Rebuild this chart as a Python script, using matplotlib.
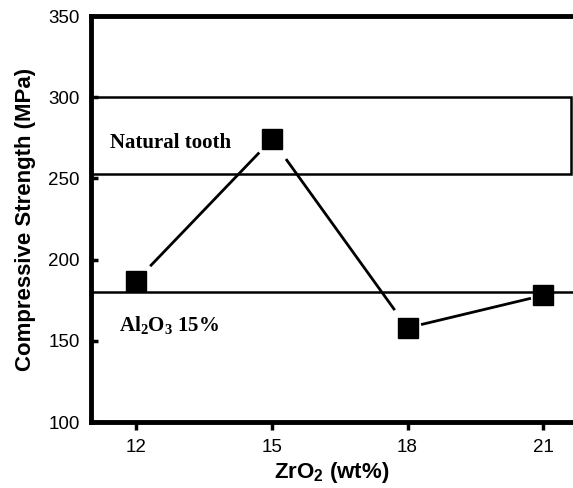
import matplotlib.pyplot as plt
import numpy as np
from matplotlib.patches import Rectangle

# ZrO2 content vs compressive strength
zro2 = [12, 15, 18, 21]
strength = [187, 274, 158, 178]

tooth_low, tooth_high = 253, 300   # natural tooth range (MPa)
al2o3_ref = 180                    # Al2O3 15% reference (MPa)

# chemical formulas: \mathbf -> bold sans, \mathrm -> bold serif
plt.rcParams['mathtext.fontset'] = 'custom'
plt.rcParams['mathtext.bf'] = 'Liberation Sans:bold'
plt.rcParams['mathtext.rm'] = 'Liberation Serif:bold'

fig = plt.figure(figsize=(5.73, 4.88), dpi=100)
ax = fig.add_axes([0.1588, 0.1352, 0.8412, 0.8320])

ax.set_xlim(11.0, 21.66)
ax.set_ylim(100, 350)

# natural tooth band
ax.add_patch(Rectangle((10.9, tooth_low), 21.62 - 10.9, tooth_high - tooth_low,
                       facecolor='white', edgecolor='black', linewidth=1.8, zorder=1))
ax.axhline(al2o3_ref, color='black', linewidth=1.8, zorder=1)

# connecting segments, trimmed so they stop short of the markers
for i in range(len(zro2) - 1):
    x0, x1 = zro2[i], zro2[i + 1]
    y0, y1 = strength[i], strength[i + 1]
    t = np.array([0.11, 0.9])
    ax.plot(x0 + t * (x1 - x0), y0 + t * (y1 - y0), color='black', linewidth=2, zorder=2)

ax.plot(zro2, strength, linestyle='none', marker='s', markersize=14,
        color='black', zorder=3)

serif = ['Liberation Serif', 'DejaVu Serif']
sans = ['Liberation Sans', 'DejaVu Sans']
ax.text(11.42, 272, 'Natural tooth', family=serif, fontweight='bold',
        fontsize=15, va='center')
ax.text(11.62, 160, r'$\mathrm{Al_2O_3}$ 15%', family=serif, fontweight='bold',
        fontsize=15, va='center')

ax.set_xticks(zro2)
ax.set_yticks([100, 150, 200, 250, 300, 350])
ax.tick_params(axis='y', direction='in', length=5, width=2.5, labelsize=13.5, pad=8)
ax.tick_params(axis='x', direction='out', length=6, width=2.5, labelsize=13.5, pad=6)
for lab in ax.get_xticklabels() + ax.get_yticklabels():
    lab.set_family(sans)

for side in ['left', 'bottom', 'top']:
    ax.spines[side].set_linewidth(3.5)
ax.spines['right'].set_visible(False)

ax.set_xlabel(r'$\mathbf{ZrO_2}$ (wt%)', family=sans, fontweight='bold', fontsize=16, labelpad=3)
ax.set_ylabel('Compressive Strength (MPa)', family=sans, fontweight='bold',
              fontsize=16, labelpad=9)

fig.savefig('out.png', dpi=100)
